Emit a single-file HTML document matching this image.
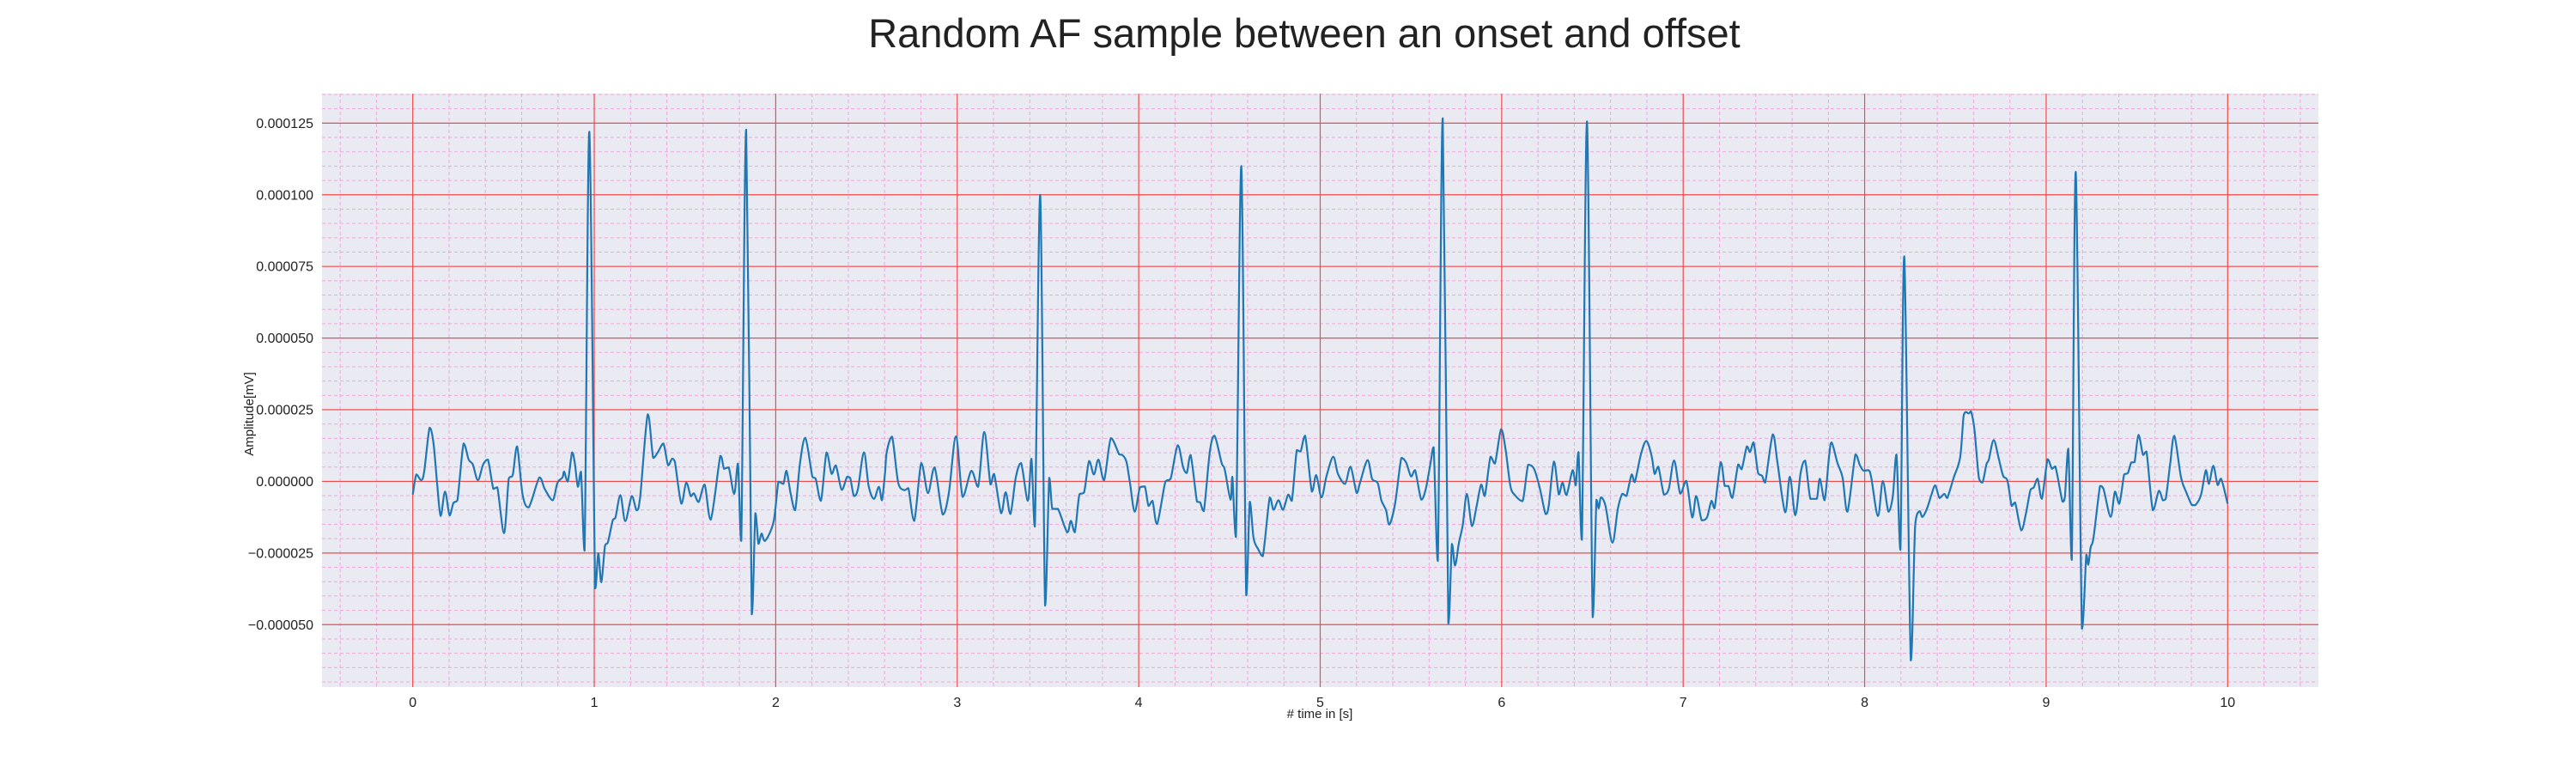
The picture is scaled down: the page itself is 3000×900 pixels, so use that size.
<!DOCTYPE html>
<html><head><meta charset="utf-8"><style>
html,body{margin:0;padding:0;background:#fff;}
svg{display:block;font-family:"Liberation Sans",sans-serif;}
</style></head><body>
<svg id="chart" width="3000" height="900" viewBox="0 0 3000 900">
<text x="1519" y="55" font-size="47" text-anchor="middle" fill="#222">Random AF sample between an onset and offset</text>
<rect x="375" y="109" width="2325" height="691" fill="#eaeaf2"/>
<g id="grid"></g>
<g id="ticks"></g>
<path id="line" fill="none" stroke="#1f77b4" stroke-width="2.2" stroke-linejoin="round"/>
<text x="1537" y="836" font-size="15" text-anchor="middle" fill="#222"># time in [s]</text>
<text x="0" y="0" font-size="15" text-anchor="middle" fill="#222" transform="translate(295,482) rotate(-90)">Amplitude[mV]</text>
</svg>
<script>
const xTicks = [0,1,2,3,4,5,6,7,8,9,10];
const yTicks = [-50,-25,0,25,50,75,100,125];
const yTickLabels = ["\u22120.000050","\u22120.000025","0.000000","0.000025","0.000050","0.000075","0.000100","0.000125"];
const times = [0.000,0.020,0.046,0.063,0.093,0.114,0.134,0.154,0.178,0.203,0.224,0.246,0.280,0.308,0.331,0.359,0.388,0.414,0.444,0.466,0.503,0.529,0.551,0.575,0.605,0.639,0.698,0.727,0.771,0.797,0.825,0.834,0.854,0.878,0.893,0.910,0.927,0.947,0.973,1.005,1.022,1.039,1.059,1.076,1.102,1.117,1.144,1.171,1.207,1.234,1.253,1.295,1.325,1.351,1.381,1.407,1.429,1.444,1.480,1.507,1.532,1.549,1.575,1.608,1.642,1.695,1.715,1.741,1.771,1.792,1.810,1.837,1.868,1.888,1.905,1.922,1.941,1.988,2.015,2.042,2.059,2.083,2.107,2.134,2.163,2.202,2.220,2.249,2.280,2.308,2.331,2.364,2.393,2.410,2.431,2.453,2.486,2.512,2.541,2.568,2.585,2.602,
2.612,2.641,2.675,2.709,2.731,2.763,2.802,2.839,2.875,2.920,2.954,2.993,3.030,3.078,3.115,3.149,3.183,3.203,3.242,3.267,3.293,3.323,3.352,3.389,3.409,3.428,3.457,3.484,3.507,3.524,3.555,3.606,3.626,3.648,3.673,3.699,3.727,3.753,3.778,3.809,3.847,3.893,3.910,3.932,3.952,3.978,4.007,4.034,4.054,4.076,4.101,4.147,4.176,4.215,4.245,4.265,4.286,4.321,4.338,4.359,4.392,4.418,4.457,4.474,4.506,4.516,4.536,4.565,4.592,4.612,4.633,4.658,4.684,4.722,4.743,4.770,4.795,4.824,4.844,4.871,4.892,4.917,4.954,4.978,5.007,5.035,5.072,5.098,5.137,5.167,5.201,
5.219,5.261,5.286,5.317,5.337,5.363,5.381,5.413,5.447,5.473,5.501,5.523,5.557,5.582,5.608,5.625,5.648,5.675,5.706,5.726,5.743,5.764,5.786,5.808,5.836,5.862,5.887,5.907,5.938,5.963,5.997,6.022,6.048,6.073,6.115,6.146,6.178,6.209,6.242,6.259,6.288,6.315,6.335,6.357,6.391,6.408,6.423,6.442,6.470,6.501,6.522,6.535,6.547,6.572,6.610,6.640,6.665,6.687,6.716,6.733,6.767,6.797,6.826,6.843,6.863,6.894,6.921,6.950,6.984,7.017,7.050,7.072,7.102,7.131,7.156,7.173,7.207,7.229,7.249,7.271,7.303,7.322,7.351,7.368,7.388,7.413,7.435,7.452,7.494,7.520,7.562,7.588,7.618,7.647,7.672,7.701,7.736,7.753,7.779,7.804,
7.818,7.850,7.878,7.905,7.949,7.973,7.994,8.021,8.036,8.073,8.100,8.131,8.155,8.175,8.197,8.218,8.254,8.278,8.302,8.318,8.344,8.368,8.389,8.412,8.439,8.455,8.491,8.526,8.545,8.558,8.573,8.586,8.605,8.629,8.649,8.671,8.684,8.711,8.739,8.763,8.787,8.810,8.829,8.863,8.889,8.913,8.932,8.953,8.976,9.008,9.032,9.051,9.090,9.103,9.122,9.141,9.163,9.197,9.221,9.232,9.245,9.261,9.297,9.316,9.355,9.379,9.403,9.430,9.450,9.469,9.487,9.509,9.534,9.553,9.588,9.621,9.643,9.659,9.683,9.706,9.743,9.774,9.803,9.822,9.853,9.880,9.897,9.921,9.945,9.964,10.000];
const amplitudes = [-4.6,2.4,0.4,3.4,18.7,13.4,-0.6,-12.1,-3.6,-11.9,-7.6,-6.6,13.2,7.6,5.9,0.4,5.9,7.6,-2.6,-2.1,-18.1,0.9,2.2,12.2,-4.6,-9.1,1.4,-2.6,-6.6,-0.6,1.4,3.4,-0.1,10.1,6.4,-1.9,3.4,-24.2,122,-37.4,-25.1,-35.2,-22.6,-21.1,-13.6,-12.6,-4.8,-13.9,-5.1,-10.1,-5.6,23.4,8.2,10.2,13.2,5.6,7.9,6.9,-7.8,-0.4,-5.2,-4.2,-7.2,-1.1,-13.4,8.9,4.4,4.9,-4.4,6.2,-20.8,122.7,-46.4,-11.1,-21.8,-18.2,-20.8,-14.1,-0.1,-0.9,3.7,-4.6,-10.1,6.4,15.2,1.6,0.9,-6.8,10.1,2.6,5.6,-3.0,1.6,1.2,-5.1,-2.6,10.1,-1.6,-6.1,-1.9,-6.6,2.9,
10.4,15.6,-0.6,-3.1,-2.4,-13.8,6.4,-4.1,4.9,-11.6,-4.1,15.7,-5.4,3.7,-1.9,17.2,-1.1,2.6,-11.1,-3.8,-11.4,1.4,6.4,-6.8,7.9,-15.8,100,-43.4,1.2,-9.6,-9.6,-17.8,-13.8,-17.8,-4.6,-3.9,7.1,2.4,7.6,0.4,15.1,9.4,9.2,6.9,-0.6,-10.6,-2.1,-1.8,-8.6,-6.8,-14.9,-0.1,0.9,12.6,4.9,2.9,9.2,-7.1,-7.3,-10.4,10.4,15.9,6.4,4.1,-6.4,1.6,-19.4,110,-39.8,-7.1,-19.8,-23.6,-26.1,-5.6,-9.9,-6.6,-9.9,-4.6,-6.8,10.9,10.4,15.9,-3.6,2.2,-5.6,1.9,8.6,2.6,-0.9,5.1,-4.1,
-0.6,7.4,0.9,-0.6,-6.6,-10.1,-15.1,-7.6,8.2,6.6,1.7,3.9,-6.4,-2.6,6.4,11.9,-27.8,126.7,-49.6,-21.8,-29.4,-21.6,-15.1,-4.4,-15.6,-8.6,-1.1,-5.1,8.6,6.2,18.2,10.9,-1.6,-4.8,-6.9,5.8,4.4,-2.1,-11.4,-8.6,6.9,-4.6,-0.4,-4.8,3.9,-1.4,10.2,-20.4,125.6,-47.4,-6.4,-9.4,-5.6,-8.6,-21.4,-9.6,-4.3,-5.1,2.4,-0.3,9.4,14.1,8.9,2.6,5.1,-4.6,-2.6,7.3,-4.3,0.2,-12.6,-5.1,-13.6,-12.6,-6.8,-9.4,6.7,-1.6,-1.6,-5.8,5.9,4.2,12.2,10.2,13.6,2.9,1.9,-0.4,16.4,6.4,-10.8,1.6,-11.8,2.9,7.2,-6.1,-6.1,0.9,-6.6,8.9,
13.6,6.4,1.4,-10.6,9.4,5.7,3.7,3.9,1.4,-12.1,0.1,-10.6,-5.1,9.4,-23.9,78.5,-62.5,-15.4,-10.4,-12.4,-9.4,-4.6,-1.4,-5.8,-4.4,-5.8,1.4,8.4,22.9,24.2,23.7,24.4,17.9,1.4,-0.4,5.9,7.6,14.4,7.9,1.9,0.2,-8.6,-7.4,-17.1,-11.1,-3.1,-2.1,0.9,-6.1,7.7,4.4,5.2,-7.1,-5.6,11.4,-27.4,108,-51.4,-25.6,-29.1,-23.1,-19.6,-1.6,-2.6,-12.4,-3.6,-7.8,2.4,2.9,6.6,6.7,16.2,9.2,10.4,-10.1,-3.3,-6.6,-6.1,5.9,15.9,1.4,-4.1,-8.3,-8.3,-4.8,3.9,-0.9,5.4,-1.3,0.9,-7.8];

const L=375,R=2700,T=109,B=800;
const X0=-0.5,X1=10.5,Y0=-71.8,Y1=135.3;
function sx(t){return L+(t-X0)/(X1-X0)*(R-L);}
function sy(v){return B-(v-Y0)/(Y1-Y0)*(B-T);}
const NS="http://www.w3.org/2000/svg";
const grid=document.getElementById('grid'), ticks=document.getElementById('ticks');
function mk(tag,attrs,parent){const e=document.createElementNS(NS,tag);for(const k in attrs)e.setAttribute(k,attrs[k]);parent.appendChild(e);return e;}
for(let i=-2;i<=52;i++){const t=i*0.2; if(Math.abs(t-Math.round(t))<1e-6) continue;
  const ln=mk('line',{x1:sx(t),x2:sx(t),y1:T,y2:B,stroke:'#f0a6dc','stroke-width':1,'stroke-dasharray':'4,3'},grid);
  
  }
for(let i=-14;i<=27;i++){const v=i*5; if(i%5===0) continue;
  const ln=mk('line',{x1:L,x2:R,y1:sy(v),y2:sy(v),stroke:'#f0a6dc','stroke-width':1,'stroke-dasharray':'4,3'},grid);
  
  }
xTicks.forEach(t=>{
  const ln=mk('line',{x1:sx(t),x2:sx(t),y1:T,y2:B,stroke:'#f24a4a','stroke-width':1.2},grid);
  
  
  const tx=mk('text',{x:sx(t),y:823,'font-size':16,'text-anchor':'middle',fill:'#222'},ticks);
  tx.textContent=String(t);
  
  
});
yTicks.forEach((v,i)=>{
  const ln=mk('line',{x1:L,x2:R,y1:sy(v),y2:sy(v),stroke:'#f24a4a','stroke-width':1.2},grid);
  
  
  const tx=mk('text',{x:365,y:sy(v)+5.5,'font-size':16,'text-anchor':'end',fill:'#222'},ticks);
  tx.textContent=yTickLabels[i];
  
  
});
const P=times.map((t,i)=>[sx(t),sy(amplitudes[i])]);
let d='M'+P[0][0].toFixed(1)+','+P[0][1].toFixed(1);
const k=0.16;
function clamp(v,a,b){const lo=Math.min(a,b),hi=Math.max(a,b);return Math.max(lo,Math.min(hi,v));}
for(let i=0;i<P.length-1;i++){
  const p0=P[Math.max(0,i-1)],p1=P[i],p2=P[i+1],p3=P[Math.min(P.length-1,i+2)];
  const c1=[p1[0]+(p2[0]-p0[0])*k,clamp(p1[1]+(p2[1]-p0[1])*k,p1[1],p2[1])];
  const c2=[p2[0]-(p3[0]-p1[0])*k,clamp(p2[1]-(p3[1]-p1[1])*k,p1[1],p2[1])];
  d+=' C'+c1[0].toFixed(1)+','+c1[1].toFixed(1)+' '+c2[0].toFixed(1)+','+c2[1].toFixed(1)+' '+p2[0].toFixed(1)+','+p2[1].toFixed(1);
}
document.getElementById('line').setAttribute('d',d);
</script>
</body></html>
